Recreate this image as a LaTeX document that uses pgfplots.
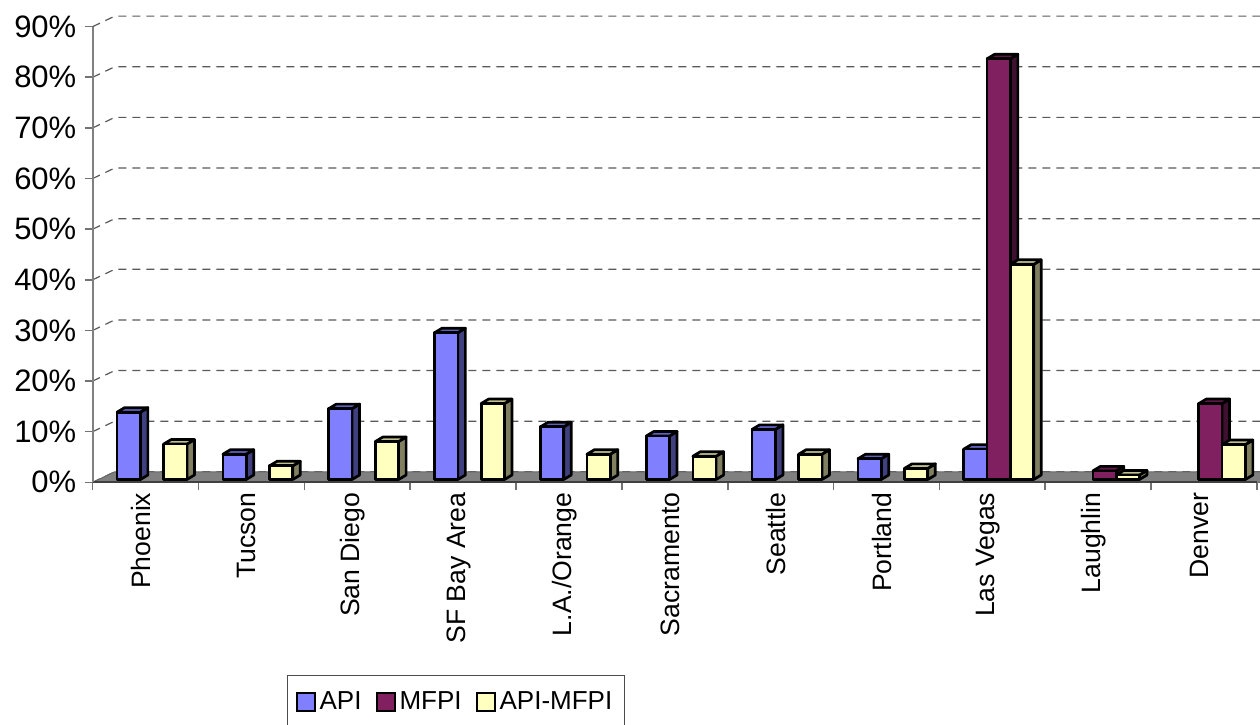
\documentclass[border=0pt]{standalone}
\usepackage{fontspec}
\setmainfont{Liberation Sans}
\usepackage{pgfplots}
\usepackage{pgfplotstable}
\pgfplotsset{compat=1.18}

% face colours: front, side, top
\definecolor{apiF}{RGB}{128,128,255}
\definecolor{apiS}{RGB}{64,64,128}
\definecolor{apiT}{RGB}{96,96,192}
\definecolor{mfF}{RGB}{128,32,96}
\definecolor{mfS}{RGB}{64,16,48}
\definecolor{mfT}{RGB}{96,24,72}
\definecolor{amF}{RGB}{255,255,192}
\definecolor{amS}{RGB}{128,128,96}
\definecolor{amT}{RGB}{192,192,144}

% shares by market, in percent
\pgfplotstableread{
city        api   mfpi  diff
Phoenix     13.3  nan   7.0
Tucson      5.0   nan   2.7
SanDiego    14.0  nan   7.5
SFBay       29.0  nan   15.0
LAOrange    10.4  nan   5.0
Sacramento  8.6   nan   4.6
Seattle     9.9   nan   5.0
Portland    4.1   nan   2.2
LasVegas    6.0   83.1  42.5
Laughlin    nan   1.7   0.9
Denver      nan   15.0  6.9
}\shares

% a 3-d column drawn downwards from the data point to zero;
% \barv holds the value, 2.5315pt is one percent on the y axis
\newcommand\declarecolumnmark[4]{%
  \pgfdeclareplotmark{#1}{%
    \pgfmathsetmacro\ybot{1.4-\barv*2.5315}%
    \pgfsetlinewidth{1.35pt}\pgfsetroundjoin\pgfsetstrokecolor{black}%
    \pgfsetfillcolor{#3}%
    \pgfpathmoveto{\pgfpoint{9.02pt}{\ybot pt}}%
    \pgfpathlineto{\pgfpoint{12.77pt}{\ybot pt+2.25pt}}%
    \pgfpathlineto{\pgfpoint{12.77pt}{3.65pt}}%
    \pgfpathlineto{\pgfpoint{9.02pt}{1.4pt}}%
    \pgfpathclose\pgfusepath{fill,stroke}%
    \pgfsetfillcolor{#4}%
    \pgfpathmoveto{\pgfpoint{-2.62pt}{1.4pt}}%
    \pgfpathlineto{\pgfpoint{9.02pt}{1.4pt}}%
    \pgfpathlineto{\pgfpoint{12.77pt}{3.65pt}}%
    \pgfpathlineto{\pgfpoint{1.13pt}{3.65pt}}%
    \pgfpathclose\pgfusepath{fill,stroke}%
    \pgfsetfillcolor{#2}%
    \pgfpathmoveto{\pgfpoint{-2.62pt}{\ybot pt}}%
    \pgfpathlineto{\pgfpoint{9.02pt}{\ybot pt}}%
    \pgfpathlineto{\pgfpoint{9.02pt}{1.4pt}}%
    \pgfpathlineto{\pgfpoint{-2.62pt}{1.4pt}}%
    \pgfpathclose\pgfusepath{fill,stroke}%
  }}
\declarecolumnmark{colAPI}{apiF}{apiS}{apiT}
\declarecolumnmark{colMFPI}{mfF}{mfS}{mfT}
\declarecolumnmark{colDIFF}{amF}{amS}{amT}

\tikzset{grid3d/.style={black!65, line width=0.6pt, dash pattern=on 4pt off 3pt}}

\begin{document}
\begin{tikzpicture}
\begin{axis}[
  x=52.92pt, y=2.5315pt,
  xmin=-0.5, xmax=10.5, ymin=0, ymax=90,
  clip=false, axis on top,
  axis x line*=bottom, axis y line*=left,
  x axis line style={black!75, line width=1pt},
  y axis line style={black!50, line width=1pt},
  tick align=outside,
  major tick length=4pt,
  tick style={black!55, line width=0.8pt},
  xtick={-0.5,0.5,...,10.5},
  xticklabels={,,,,,,,,,,,,},
  extra x ticks={0,1,...,10},
  extra x tick labels={Phoenix,Tucson,San Diego,SF Bay Area,L.A./Orange,Sacramento,Seattle,Portland,Las Vegas,Laughlin,Denver},
  extra x tick style={major tick length=0pt,
    xticklabel style={font=\fontsize{13.3}{15}\selectfont, inner sep=0pt,
      rotate=90, anchor=east, xshift=-5pt, yshift=2.25pt}},
  ytick={0,10,...,90},
  yticklabels={0\%,10\%,20\%,30\%,40\%,50\%,60\%,70\%,80\%,90\%},
  yticklabel style={font=\fontsize{15.5}{18}\selectfont, inner sep=0pt, xshift=-4pt},
  legend style={at={(0,0)}, anchor=north west, xshift=97.15pt, yshift=-96.35pt,
    draw=black!70, line width=0.6pt, font=\fontsize{13}{15}\selectfont,
    inner xsep=4pt, inner ysep=6pt,
    /tikz/every even column/.append style={column sep=5pt}},
  legend columns=3,
  legend image code/.code={\draw[draw=black, line width=1pt] (0pt,-4.5pt) rectangle (9pt,4.5pt);},
]
\coordinate (o) at (rel axis cs:0,0);

% side-wall and back-wall gridlines
\pgfplotsinvokeforeach{0,10,...,90}{
  \draw[grid3d] (axis cs:-0.5,#1) -- ++(11pt,5.25pt)
    -- ([xshift=11pt,yshift=5.25pt]axis cs:10.9,#1);
}
% floor
\fill[black!50, draw=black!60, line width=0.5pt]
  (axis cs:-0.5,0) -- (axis cs:10.9,0)
  -- ([xshift=11pt,yshift=5.25pt]axis cs:10.9,0)
  -- ([xshift=11pt,yshift=5.25pt]axis cs:-0.5,0) -- cycle;

\addplot[only marks, mark=colAPI, forget plot,
  visualization depends on={\thisrow{api} \as \barv}]
  table[x expr=\coordindex-0.22, y=api] {\shares};
\addplot[only marks, mark=colMFPI, forget plot,
  visualization depends on={\thisrow{mfpi} \as \barv}]
  table[x expr=\coordindex, y=mfpi] {\shares};
\addplot[only marks, mark=colDIFF, forget plot,
  visualization depends on={\thisrow{diff} \as \barv}]
  table[x expr=\coordindex+0.22, y=diff] {\shares};

\addlegendimage{fill=apiF}
\addlegendentry{API}
\addlegendimage{fill=mfF}
\addlegendentry{MFPI}
\addlegendimage{fill=amF}
\addlegendentry{API-MFPI}
\end{axis}
\pgfresetboundingbox
\path[use as bounding box] (o) ++(-46.35pt,-120.85pt) rectangle ++(630pt,362pt);
\end{tikzpicture}
\end{document}
